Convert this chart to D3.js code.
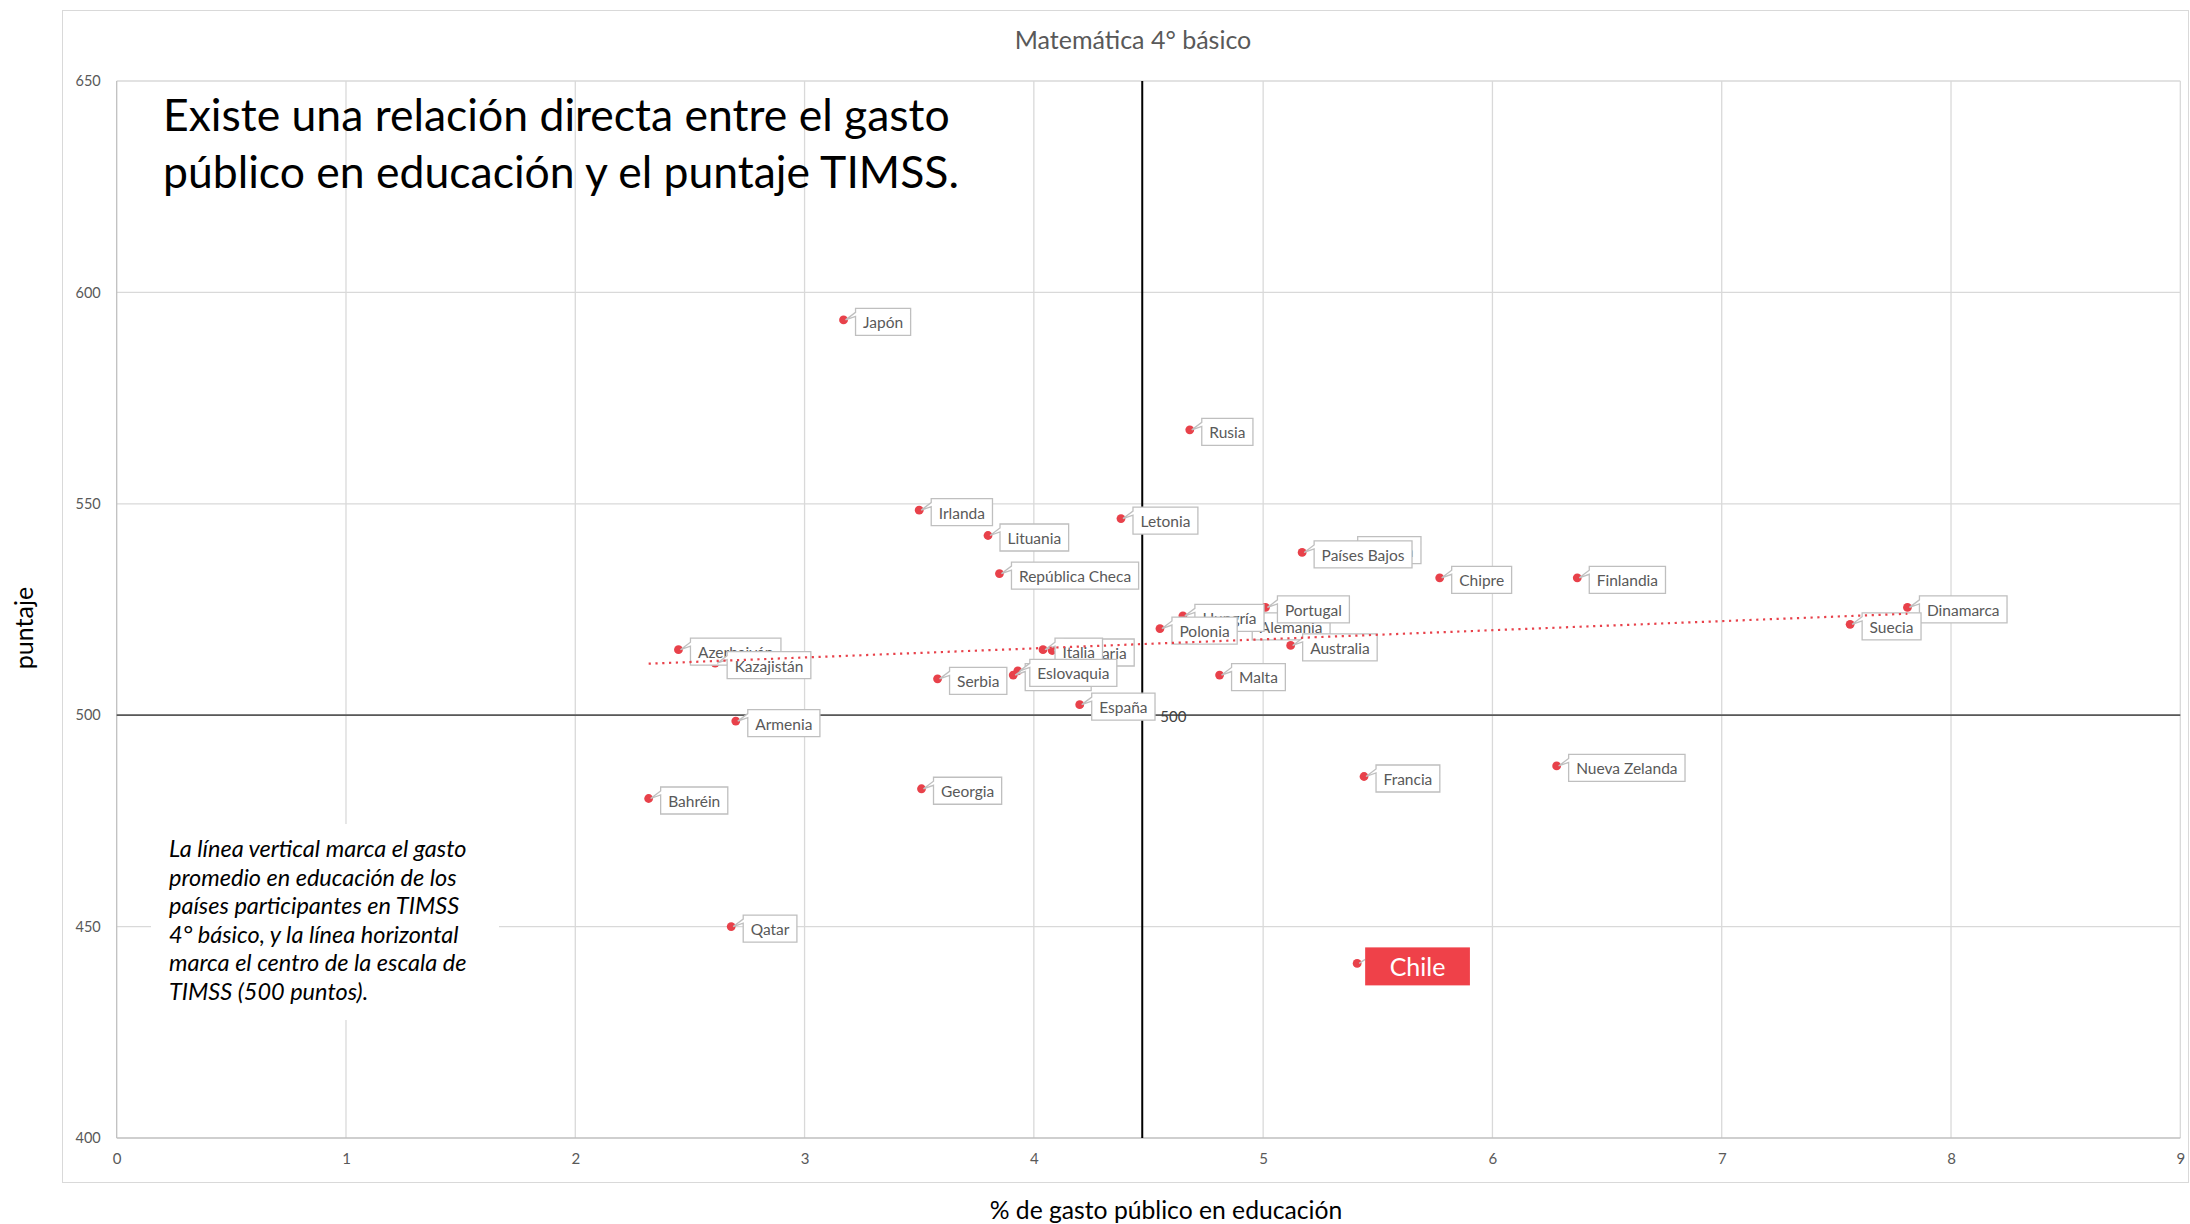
<!DOCTYPE html>
<html>
<head>
<meta charset="utf-8">
<script src="https://cdn.jsdelivr.net/npm/d3@7"></script>
<style>
  body { margin: 0; background: #fff; }
  svg { display: block; font-family: Lato, "Open Sans", sans-serif; }
</style>
</head>
<body>
<svg id="chart" width="2190" height="1224"></svg>
<script>
// order matters: later labels are painted over earlier ones
const countries = ["Japón", "Rusia", "Irlanda", "Letonia", "Lituania", "Austria", "Países Bajos",
  "República Checa", "Chipre", "Finlandia", "Dinamarca", "Suecia", "Alemania", "Hungría", "Portugal",
  "Polonia", "Australia", "Azerbaiyán", "Bulgaria", "Italia", "Kazajistán", "Croacia", "Eslovaquia",
  "Malta", "Serbia", "España", "Armenia", "Nueva Zelanda", "Francia", "Georgia", "Bahréin", "Qatar", "Chile"];
const gasto = [3.17, 4.68, 3.50, 4.38, 3.80, 5.36, 5.17,
  3.85, 5.77, 6.37, 7.81, 7.56, 4.90, 4.65, 5.01,
  4.55, 5.12, 2.45, 4.08, 4.04, 2.61, 3.91, 3.93,
  4.81, 3.58, 4.20, 2.70, 6.28, 5.44, 3.51, 2.32, 2.68, 5.41];
const puntaje = [593.5, 567.5, 548.5, 546.5, 542.5, 539.5, 538.5,
  533.5, 532.5, 532.5, 525.5, 521.5, 521.5, 523.5, 525.5,
  520.5, 516.5, 515.5, 515.3, 515.5, 512.3, 509.5, 510.5,
  509.5, 508.6, 502.5, 498.6, 488, 485.5, 482.6, 480.3, 450, 441.3];

const xTicks = [0, 1, 2, 3, 4, 5, 6, 7, 8, 9];
const yTicks = [400, 450, 500, 550, 600, 650];
const centroEscala = 500;
const destacado = "Chile";

const titulo = "Matemática 4° básico";
const tituloX = "% de gasto público en educación";
const tituloY = "puntaje";
const mensaje = ["Existe una relación directa entre el gasto", "público en educación y el puntaje TIMSS."];
const nota = ["La línea vertical marca el gasto", "promedio en educación de los",
  "países participantes en TIMSS", "4° básico, y la línea horizontal",
  "marca el centro de la escala de", "TIMSS (500 puntos)."];

const points = countries.map((c, i) => ({ name: c, x: gasto[i], y: puntaje[i] }));

const svg = d3.select("#chart");
const x = d3.scaleLinear().domain([0, 9]).range([116.7, 2180.3]);
const y = d3.scaleLinear().domain([400, 650]).range([1138, 81]);

const red = "#e8414a";
const grid = "#d9d9d9";
const textGray = "#595959";

// outer chart frame
svg.append("rect")
  .attr("x", 62.5).attr("y", 10.5).attr("width", 2126).attr("height", 1172)
  .attr("fill", "#fff").attr("stroke", grid);

// title
svg.append("text")
  .attr("x", 1133).attr("y", 40).attr("dy", "0.35em")
  .attr("text-anchor", "middle").attr("font-size", 25).attr("fill", textGray)
  .text(titulo);

// gridlines
svg.append("g").selectAll("line").data(yTicks.slice(1)).join("line")
  .attr("x1", x(0)).attr("x2", x(9))
  .attr("y1", d => y(d)).attr("y2", d => y(d))
  .attr("stroke", grid).attr("stroke-width", 1.3);
svg.append("g").selectAll("line").data(xTicks.slice(1)).join("line")
  .attr("x1", d => x(d)).attr("x2", d => x(d))
  .attr("y1", y(400)).attr("y2", y(650))
  .attr("stroke", grid).attr("stroke-width", 1.3);

// axes lines
svg.append("line").attr("x1", x(0)).attr("x2", x(0)).attr("y1", y(400)).attr("y2", y(650))
  .attr("stroke", "#bfbfbf").attr("stroke-width", 1.3);
svg.append("line").attr("x1", x(0)).attr("x2", x(9)).attr("y1", y(400)).attr("y2", y(400))
  .attr("stroke", "#bfbfbf").attr("stroke-width", 1.3);

// tick labels
const yAxis = svg.append("g").attr("transform", `translate(${x(0)},0)`)
  .call(d3.axisLeft(y).tickValues(yTicks).tickSize(0).tickPadding(16).tickFormat(d3.format("d")));
yAxis.select(".domain").remove();
yAxis.selectAll("text").attr("font-size", 14.5).attr("fill", textGray).attr("font-family", "Lato");

const xAxis = svg.append("g").attr("transform", `translate(0,${y(400)})`)
  .call(d3.axisBottom(x).tickValues(xTicks).tickSize(0).tickPadding(15).tickFormat(d3.format("d")));
xAxis.select(".domain").remove();
xAxis.selectAll("text").attr("font-size", 15).attr("fill", textGray).attr("font-family", "Lato");

// axis titles
svg.append("text")
  .attr("x", 1166).attr("y", 1210).attr("dy", "0.35em")
  .attr("text-anchor", "middle").attr("font-size", 24.7).attr("fill", "#000")
  .text(tituloX);
svg.append("text")
  .attr("transform", "translate(24,628) rotate(-90)").attr("dy", "0.35em")
  .attr("text-anchor", "middle").attr("font-size", 25).attr("fill", "#000")
  .text(tituloY);

// reference lines: scale centre and mean spending
const mediaGasto = d3.mean(gasto);
svg.append("line")
  .attr("x1", x(0)).attr("x2", x(9)).attr("y1", y(centroEscala)).attr("y2", y(centroEscala))
  .attr("stroke", "#595959").attr("stroke-width", 1.8);
svg.append("line")
  .attr("x1", x(mediaGasto)).attr("x2", x(mediaGasto)).attr("y1", y(400)).attr("y2", y(650))
  .attr("stroke", "#000").attr("stroke-width", 2);
svg.append("text")
  .attr("x", x(mediaGasto) + 18).attr("y", y(centroEscala) + 2).attr("dy", "0.35em")
  .attr("font-size", 15).attr("fill", "#404040")
  .text(centroEscala);

// note box (white background hides grid)
svg.append("rect").attr("x", 151).attr("y", 824).attr("width", 348).attr("height", 196).attr("fill", "#fff");
svg.append("text")
  .attr("font-size", 23.5).attr("font-style", "italic").attr("fill", "#000")
  .selectAll("tspan").data(nota).join("tspan")
  .attr("x", 169).attr("y", (d, i) => 857 + i * 28.6)
  .text(d => d);

// headline text
svg.append("text")
  .attr("font-size", 44.5).attr("fill", "#000")
  .selectAll("tspan").data(mensaje).join("tspan")
  .attr("x", 163).attr("y", (d, i) => 131 + i * 57)
  .text(d => d);

// markers
svg.append("g").selectAll("circle").data(points).join("circle")
  .attr("cx", d => x(d.x)).attr("cy", d => y(d.y)).attr("r", 4.4)
  .attr("fill", red);

// data labels with callout pointer
svg.append("g").selectAll("g").data(points).join("g")
  .each(function (d) {
    const g = d3.select(this);
    const px = x(d.x), py = y(d.y);
    const big = d.name === destacado;
    const t = g.append("text").text(d.name)
      .attr("font-size", big ? 25 : 15.5)
      .attr("fill", big ? "#fff" : textGray)
      .attr("text-anchor", "middle").attr("dy", "0.35em");
    const tw = t.node().getComputedTextLength();
    const w = tw + (big ? 49 : 15);
    const h = big ? 38 : 27;
    const bx = px + (big ? 8 : 12);
    const by = py + (big ? 3 : 2) - h / 2;
    t.attr("x", bx + w / 2).attr("y", by + h / 2 + 1);
    if (big) {
      g.insert("line", "text")
        .attr("x1", px + 2).attr("y1", py).attr("x2", bx).attr("y2", by + 12)
        .attr("stroke", "#bfbfbf").attr("stroke-width", 1.3);
      g.insert("rect", "text")
        .attr("x", bx).attr("y", by).attr("width", w).attr("height", h)
        .attr("fill", "#ef4149");
    } else {
      g.insert("path", "text")
        .attr("d", `M${bx},${by}H${bx + w}V${by + h}H${bx}V${by + 8}L${px + 2},${py}L${bx},${by + 4}Z`)
        .attr("fill", "#fff").attr("stroke", "#bfbfbf").attr("stroke-width", 1.3);
    }
  });

// linear trend line over all countries
const mx = d3.mean(gasto), my = d3.mean(puntaje);
const slope = d3.sum(gasto, (v, i) => (v - mx) * (puntaje[i] - my)) / d3.sum(gasto, v => (v - mx) * (v - mx));
const icpt = my - slope * mx;
const [x0, x1] = d3.extent(gasto);
svg.append("line")
  .attr("x1", x(x0)).attr("y1", y(icpt + slope * x0))
  .attr("x2", x(x1)).attr("y2", y(icpt + slope * x1))
  .attr("stroke", red).attr("stroke-width", 2.2)
  .attr("stroke-dasharray", "2.2,4.6");
</script>
</body>
</html>
